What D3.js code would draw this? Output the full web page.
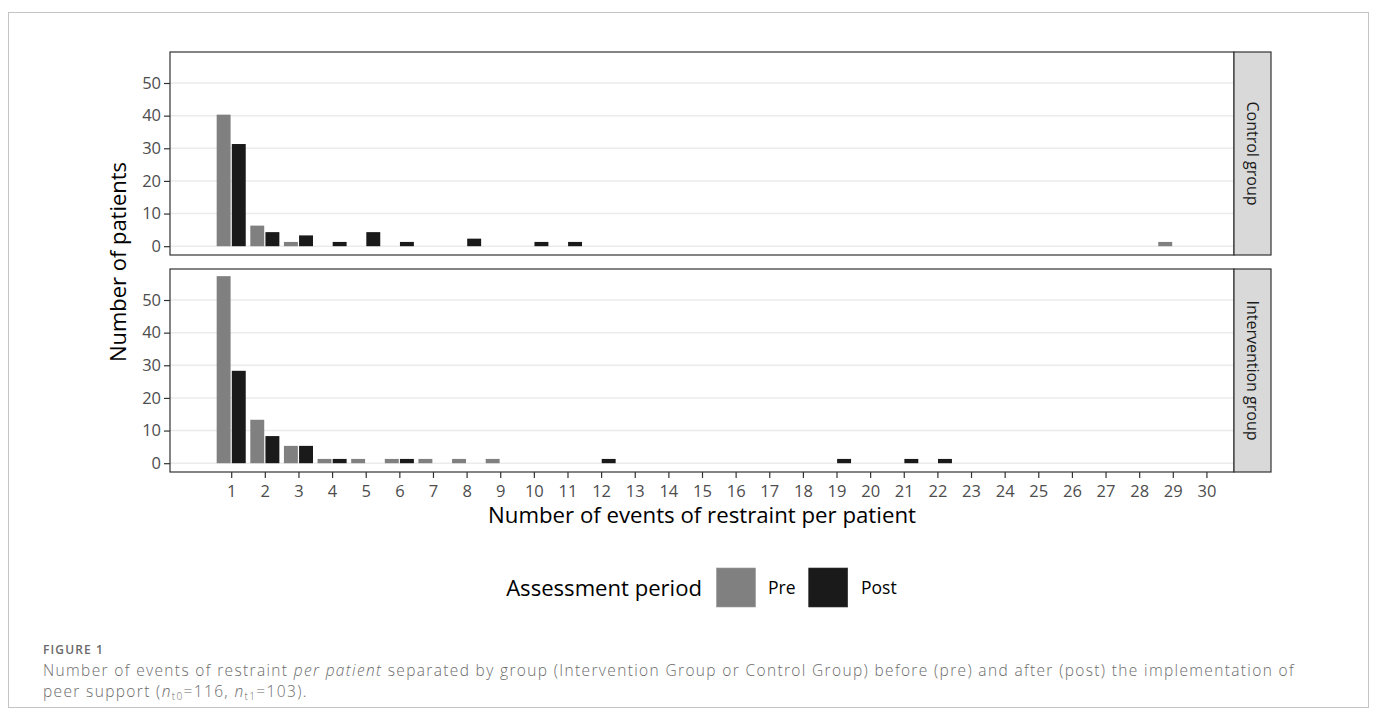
<!DOCTYPE html>
<html>
<head>
<meta charset="utf-8">
<script src="https://cdn.jsdelivr.net/npm/d3@7"></script>
<style>
  html, body { margin: 0; padding: 0; background: #fff; }
  svg { display: block; }
</style>
</head>
<body>
<svg id="chart" width="1375" height="718"></svg>
<script>
// ---------------- DATA ----------------
const xTicks = [1,2,3,4,5,6,7,8,9,10,11,12,13,14,15,16,17,18,19,20,21,22,23,24,25,26,27,28,29,30];
const yTicks = [0,10,20,30,40,50];
const groups = ["Control group", "Intervention group"];
const periods = ["Pre", "Post"];
const periodColors = ["#808080", "#1a1a1a"];
// counts of patients for events 1..30
const controlPre       = [40,6,1,0,0,0,0,0,0,0,0,0,0,0,0,0,0,0,0,0,0,0,0,0,0,0,0,0,1,0];
const controlPost      = [31,4,3,1,4,1,0,2,0,1,1,0,0,0,0,0,0,0,0,0,0,0,0,0,0,0,0,0,0,0];
const interventionPre  = [57,13,5,1,1,1,1,1,1,0,0,0,0,0,0,0,0,0,0,0,0,0,0,0,0,0,0,0,0,0];
const interventionPost = [28,8,5,1,0,1,0,0,0,0,0,1,0,0,0,0,0,0,1,0,1,1,0,0,0,0,0,0,0,0];
const seriesByGroup = [[controlPre, controlPost], [interventionPre, interventionPost]];

// ---------------- LAYOUT ----------------
const svg = d3.select("#chart");
const font = "'Open Sans', 'Noto Sans', sans-serif";
const panelL = 170, panelR = 1234, stripW = 37;
const panels = [{top: 52, bottom: 255}, {top: 269, bottom: 472}];

function fitText(sel, target) {
  const fs = +sel.attr("font-size");
  const w = sel.node().getComputedTextLength();
  sel.attr("font-size", fs * target / w);
}
function fitSpacing(sel, target) {
  const w = sel.node().getComputedTextLength();
  const n = sel.text().length;
  const ls = (target - w) / n;
  sel.attr("letter-spacing", ls);
  return ls;
}

// outer frame
svg.append("rect").attr("x", 8.5).attr("y", 12.5).attr("width", 1360).attr("height", 695)
  .attr("fill", "none").attr("stroke", "#c4c4c4").attr("stroke-width", 1);

const x = d3.scaleLinear().domain([-0.82, 30.82]).range([panelL, panelR]);
const barW = 0.45;

panels.forEach((p, gi) => {
  const y = d3.scaleLinear().domain([-2.7, 59.5]).range([p.bottom, p.top]);
  const g = svg.append("g");
  g.append("rect").attr("x", panelL).attr("y", p.top).attr("width", panelR - panelL).attr("height", p.bottom - p.top).attr("fill", "#fff");
  g.selectAll("line.grid").data(yTicks).enter().append("line")
    .attr("x1", panelL).attr("x2", panelR)
    .attr("y1", d => y(d)).attr("y2", d => y(d))
    .attr("stroke", "#ebebeb").attr("stroke-width", 1.5);
  seriesByGroup[gi].forEach((vals, si) => {
    const data = vals.map((n, i) => ({ev: xTicks[i], n})).filter(d => d.n > 0);
    g.selectAll("rect.s" + si).data(data).enter().append("rect")
      .attr("x", d => x(d.ev - barW + si * barW) + 0.6)
      .attr("width", d => x(d.ev + si * barW) - x(d.ev - barW + si * barW) - 1.2)
      .attr("y", d => y(d.n) - 1)
      .attr("height", d => y(0) - y(d.n) + 1)
      .attr("fill", periodColors[si]);
  });
  g.append("rect").attr("x", panelL).attr("y", p.top).attr("width", panelR - panelL).attr("height", p.bottom - p.top)
    .attr("fill", "none").attr("stroke", "#333").attr("stroke-width", 1.2);
  g.append("rect").attr("x", panelR).attr("y", p.top).attr("width", stripW).attr("height", p.bottom - p.top)
    .attr("fill", "#d9d9d9").attr("stroke", "#333").attr("stroke-width", 1.2);
  const cy = (p.top + p.bottom) / 2, cx = panelR + stripW / 2;
  g.append("text").attr("transform", `translate(${cx},${cy}) rotate(90)`)
    .attr("text-anchor", "middle").attr("dominant-baseline", "central")
    .attr("font-family", font).attr("font-size", 16).attr("fill", "#1a1a1a")
    .text(groups[gi]);
  const ya = d3.axisLeft(y).tickValues(yTicks).tickSize(6).tickPadding(3);
  const yg = g.append("g").attr("transform", `translate(${panelL},0)`).call(ya);
  yg.select(".domain").remove();
  yg.selectAll(".tick line").attr("stroke", "#333").attr("stroke-width", 1.2);
  yg.selectAll(".tick text").attr("font-family", font).attr("font-size", 16.5).attr("fill", "#4d4d4d");
  if (gi === 1) {
    const xa = d3.axisBottom(x).tickValues(xTicks).tickSize(6).tickPadding(7);
    const xg = g.append("g").attr("transform", `translate(0,${p.bottom})`).call(xa);
    xg.select(".domain").remove();
    xg.selectAll(".tick line").attr("stroke", "#333").attr("stroke-width", 1.2);
    xg.selectAll(".tick text").attr("font-family", font).attr("font-size", 16.5).attr("fill", "#4d4d4d");
  }
});

// axis titles
const xt = svg.append("text").attr("x", (panelL + panelR) / 2).attr("y", 523)
  .attr("text-anchor", "middle").attr("font-family", font).attr("font-size", 22).attr("fill", "#000")
  .text("Number of events of restraint per patient");
fitText(xt, 428);
const yt = svg.append("text").attr("transform", `translate(126,${(panels[0].top + panels[1].bottom) / 2}) rotate(-90)`)
  .attr("text-anchor", "middle").attr("font-family", font).attr("font-size", 22).attr("fill", "#000")
  .text("Number of patients");
fitText(yt, 200);

// legend
const legY = 568, keySize = 39;
const lt = svg.append("text").attr("x", 702).attr("y", 596).attr("text-anchor", "end")
  .attr("font-family", font).attr("font-size", 21).attr("fill", "#000")
  .text("Assessment period");
fitText(lt, 196);
const keyX = [716.5, 808.7], labX = [768, 861];
periods.forEach((p, i) => {
  svg.append("rect").attr("x", keyX[i]).attr("y", legY).attr("width", keySize).attr("height", keySize)
    .attr("fill", periodColors[i]).attr("stroke", i === 0 ? "#999" : "#333").attr("stroke-width", 0.6);
  svg.append("text").attr("x", labX[i]).attr("y", 594).attr("font-family", font).attr("font-size", 17.5)
    .attr("fill", "#000").text(p);
});

// caption
const fig = svg.append("text").attr("x", 43).attr("y", 654).attr("font-family", font).attr("font-size", 12)
  .attr("font-weight", 600).attr("fill", "#6a6a6a").text("FIGURE 1");
fitSpacing(fig, 61);
const capColor = "#6b6b6b", capSize = 15.5;
const c1 = svg.append("text").attr("x", 43).attr("y", 676).attr("font-family", font).attr("font-size", capSize)
  .attr("font-weight", 300).attr("fill", capColor);
c1.append("tspan").text("Number of events of restraint ");
c1.append("tspan").attr("font-style", "italic").text("per patient");
c1.append("tspan").text(" separated by group (Intervention Group or Control Group) before (pre) and after (post) the implementation of");
const ls = fitSpacing(c1, 1252);
const c2 = svg.append("text").attr("x", 43).attr("y", 697).attr("font-family", font).attr("font-size", capSize)
  .attr("font-weight", 300).attr("fill", capColor).attr("letter-spacing", ls);
c2.append("tspan").text("peer support (");
c2.append("tspan").attr("font-style", "italic").text("n");
c2.append("tspan").attr("font-size", capSize * 0.65).attr("dy", 3).text("t0");
c2.append("tspan").attr("dy", -3).text("=116, ");
c2.append("tspan").attr("font-style", "italic").text("n");
c2.append("tspan").attr("font-size", capSize * 0.65).attr("dy", 3).text("t1");
c2.append("tspan").attr("dy", -3).text("=103).");
</script>
</body>
</html>
